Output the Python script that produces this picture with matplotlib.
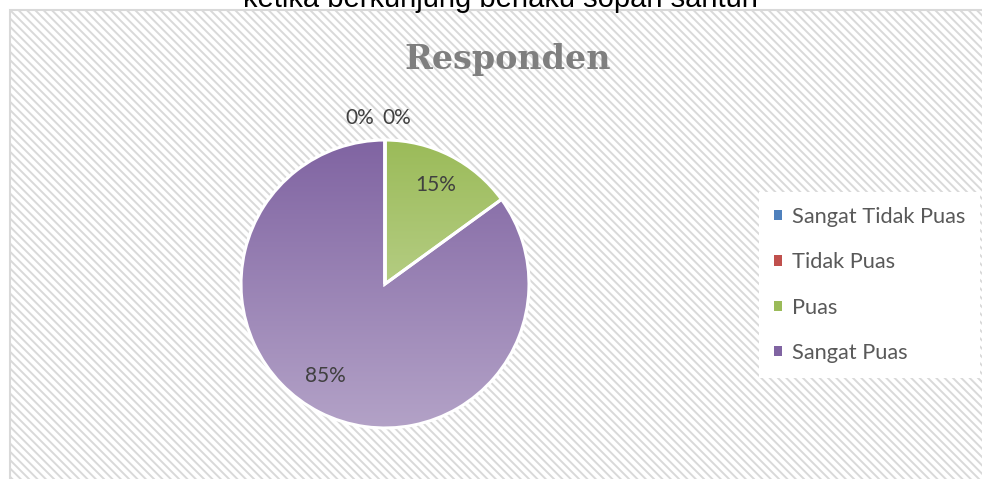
# Pie chart "Responden" - kepuasan pengunjung
import numpy as np
import matplotlib.pyplot as plt
from matplotlib.patches import Rectangle
import matplotlib.colors as mcolors

# Data
kategori = ['Sangat Tidak Puas', 'Tidak Puas', 'Puas', 'Sangat Puas']
nilai = [0, 0, 15, 85]
warna_atas = ['#4f81bd', '#c0504d', '#9bbb59', '#8064a2']
warna_bawah = ['#a7c0de', '#dfa8a6', '#cddeab', '#b3a2c7']
judul_atas = 'ketika berkunjung berlaku sopan santun'
judul = 'Responden'

W, H = 982, 479
plt.rcParams['hatch.linewidth'] = 1.4
plt.rcParams['hatch.color'] = '#e4e4e4'

fig = plt.figure(figsize=(W / 100, H / 100), dpi=100)
ax = fig.add_axes([0, 0, 1, 1])

# chart area with diagonal stripes
ax.add_patch(Rectangle((10, -20), W + 20, H - 10 + 20, facecolor='white',
                       edgecolor='#d9d9d9', linewidth=1.5, hatch='\\\\\\\\', zorder=0))

# pie
cx, cy, r = 385, H - 284, 144
wedges, texts, autotexts = ax.pie(nilai, colors=['none'] * 4, startangle=90, counterclock=False,
                                  center=(cx, cy), radius=r, autopct='%1.0f%%', pctdistance=0.77,
                                  wedgeprops=dict(edgecolor='white', linewidth=2.2),
                                  textprops=dict(color='#404040', fontsize=15, family='Lato'))

# vertical gradient fill for each slice
grad = np.linspace(0, 1, 256).reshape(-1, 1)
for w, c1, c2 in zip(wedges, warna_atas, warna_bawah):
    cmap = mcolors.LinearSegmentedColormap.from_list('g', [c1, c2])
    im = ax.imshow(grad, cmap=cmap, extent=(cx - r, cx + r, cy - r, cy + r),
                   origin='upper', aspect='auto', zorder=1)
    im.set_clip_path(w)
    w.set_zorder(2)

# labels for the empty slices go outside the pie
geser = [-25, 12]
j = 0
for t, v in zip(autotexts, nilai):
    t.set_zorder(3)
    if v == 0:
        t.set_position((cx + geser[j], cy + r * 1.155))
        j += 1
autotexts[3].set_position((cx - 60, cy - 92))

ax.set_xlim(0, W)
ax.set_ylim(0, H)
ax.set_aspect('equal')
ax.axis('off')

ax.text(500, H - 7, judul_atas, ha='center', va='baseline', fontsize=21,
        family='Liberation Sans', color='black')
ax.text(508, H - 69, judul, ha='center', va='baseline', fontsize=24, fontweight='bold',
        family='DejaVu Serif', color='#7f7f7f')

leg = ax.legend(wedges, kategori, loc='center left', bbox_to_anchor=(759 / W, 1 - 285 / H),
                frameon=True, facecolor='white', edgecolor='none', fancybox=False, framealpha=1,
                prop=dict(family='Lato', size=15.7), labelcolor='#595959',
                handlelength=0.35, handleheight=0.35, handletextpad=0.45, labelspacing=1.16,
                borderpad=0.7, borderaxespad=0)
for h, c in zip(leg.legend_handles, warna_atas):
    h.set_facecolor(c)
    h.set_edgecolor('none')

fig.savefig('out.png', dpi=100)
